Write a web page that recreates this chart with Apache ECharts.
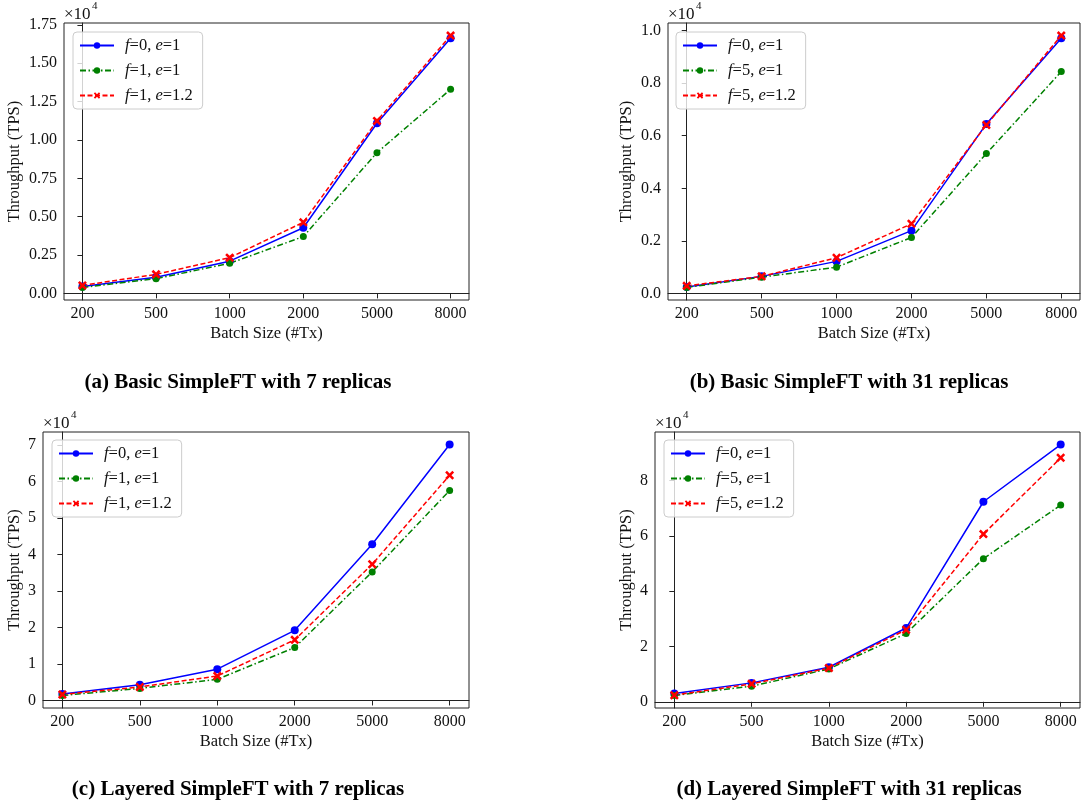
<!DOCTYPE html>
<html>
<head>
<meta charset="utf-8">
<title>SimpleFT throughput vs batch size</title>
<script src="https://cdn.jsdelivr.net/npm/echarts@6/dist/echarts.min.js"></script>
<style>
  html, body { margin: 0; padding: 0; background: #fff; }
  #chart { width: 1082px; height: 807px; }
</style>
</head>
<body>
<div id="chart"></div>
<script>
// Batch sizes on the x axis (shared by all four panels)
const batchSizes = ['200', '500', '1000', '2000', '5000', '8000'];

// Throughput (TPS) per batch size
// (a) Basic SimpleFT, 7 replicas
const basic7_f0e1   = [450, 1050, 2100, 4280, 11090, 16630];
const basic7_f1e1   = [390, 960, 1960, 3700, 9170, 13300];
const basic7_f1e12  = [520, 1240, 2330, 4630, 11240, 16800];
// (b) Basic SimpleFT, 31 replicas
const basic31_f0e1  = [250, 650, 1220, 2390, 6450, 9710];
const basic31_f5e1  = [230, 620, 1000, 2130, 5320, 8440];
const basic31_f5e12 = [290, 650, 1360, 2650, 6410, 9810];
// (c) Layered SimpleFT, 7 replicas
const layered7_f0e1  = [1800, 4300, 8570, 19200, 42800, 70100];
const layered7_f1e1  = [1370, 3300, 5800, 14500, 35200, 57500];
const layered7_f1e12 = [1640, 3700, 6700, 16600, 37300, 61700];
// (d) Layered SimpleFT, 31 replicas
const layered31_f0e1  = [3000, 6850, 12500, 26700, 72400, 93100];
const layered31_f5e1  = [2300, 5650, 11900, 24700, 51800, 71200];
const layered31_f5e12 = [2400, 6500, 12200, 26100, 60700, 88300];

// Series labels
const namesF1 = ['f=0, e=1', 'f=1, e=1', 'f=1, e=1.2'];
const namesF5 = ['f=0, e=1', 'f=5, e=1', 'f=5, e=1.2'];

// Y tick values (in TPS); labels are shown scaled by 10^4
const ticksA = [0, 2500, 5000, 7500, 10000, 12500, 15000, 17500];
const ticksB = [0, 2000, 4000, 6000, 8000, 10000];
const ticksC = [0, 10000, 20000, 30000, 40000, 50000, 60000, 70000];
const ticksD = [0, 20000, 40000, 60000, 80000];

// Panel captions
const captions = [
  '(a) Basic SimpleFT with 7 replicas',
  '(b) Basic SimpleFT with 31 replicas',
  '(c) Layered SimpleFT with 7 replicas',
  '(d) Layered SimpleFT with 31 replicas'
];

const FONT = "'Liberation Serif', 'DejaVu Serif', 'Times New Roman', serif";
const INK = '#111';
const SPINE = '#222';

const panels = [
  { grid: { left: 64, top: 23, width: 405, height: 277 }, series: [basic7_f0e1, basic7_f1e1, basic7_f1e12], names: namesF1, ticks: ticksA, dec: 2, nameGap: 41, legend: { left: 73, top: 32 } },
  { grid: { left: 668, top: 23, width: 412, height: 277 }, series: [basic31_f0e1, basic31_f5e1, basic31_f5e12], names: namesF5, ticks: ticksB, dec: 1, nameGap: 33, legend: { left: 676, top: 32 } },
  { grid: { left: 43, top: 432, width: 426, height: 276 }, series: [layered7_f0e1, layered7_f1e1, layered7_f1e12], names: namesF1, ticks: ticksC, dec: 0, nameGap: 20, legend: { left: 52, top: 440 } },
  { grid: { left: 655, top: 432, width: 425, height: 276 }, series: [layered31_f0e1, layered31_f5e1, layered31_f5e12], names: namesF5, ticks: ticksD, dec: 0, nameGap: 20, legend: { left: 664, top: 440 } }
];

// Filled "X" marker
const xMarker = 'path://M2,0 L5,3 L8,0 L10,2 L7,5 L10,8 L8,10 L5,7 L2,10 L0,8 L3,5 L0,2 Z';

const styles = [
  { color: '#0000ff', type: 'solid', symbol: 'circle', size: 8 },
  { color: '#008000', type: [6, 2.5, 1.5, 2.5], symbol: 'circle', size: 7 },
  { color: '#ff0000', type: [5, 2.5], symbol: xMarker, size: 9 }
];

const grids = [], xAxes = [], yAxes = [], series = [], legends = [], graphics = [];

panels.forEach((p, k) => {
  grids.push(Object.assign({ show: true, borderColor: SPINE, borderWidth: 1, backgroundColor: 'transparent' }, p.grid));

  xAxes.push({
    type: 'value', gridIndex: k, min: -0.25, max: batchSizes.length - 0.75,
    splitLine: { show: false },
    axisLine: { show: true, lineStyle: { color: SPINE, width: 1 } },
    axisTick: { show: true, inside: false, length: 5, lineStyle: { color: SPINE }, customValues: batchSizes.map((_, i) => i) },
    axisLabel: { color: INK, fontFamily: FONT, fontSize: 16, margin: 6,
      customValues: batchSizes.map((_, i) => i), formatter: v => batchSizes[Math.round(v)] },
    name: 'Batch Size (#Tx)', nameLocation: 'middle', nameGap: 25,
    nameTextStyle: { color: INK, fontFamily: FONT, fontSize: 16.5 }
  });

  // 5% padding around the data range, as in the usual autoscaled plot
  const all = [].concat(...p.series);
  const lo = Math.min(...all), hi = Math.max(...all), pad = (hi - lo) * 0.05;
  yAxes.push({
    type: 'value', gridIndex: k, min: lo - pad, max: hi + pad,
    splitLine: { show: false },
    axisLine: { show: true, lineStyle: { color: SPINE, width: 1 } },
    axisTick: { show: true, inside: false, length: 5, lineStyle: { color: SPINE }, customValues: p.ticks },
    axisLabel: { color: INK, fontFamily: FONT, fontSize: 16, margin: 7,
      customValues: p.ticks, formatter: v => (v / 10000).toFixed(p.dec) },
    name: 'Throughput (TPS)', nameLocation: 'middle', nameGap: p.nameGap,
    nameTextStyle: { color: INK, fontFamily: FONT, fontSize: 16.5 }
  });

  p.series.forEach((vals, j) => {
    const s = styles[j];
    series.push({
      type: 'line', name: p.names[j], xAxisIndex: k, yAxisIndex: k,
      data: vals.map((v, i) => [i, v]),
      symbol: s.symbol, symbolSize: s.size, showSymbol: true,
      itemStyle: { color: s.color },
      lineStyle: { color: s.color, width: 1.5, type: s.type },
      animation: false, silent: true
    });
  });

  legends.push({
    orient: 'vertical', left: p.legend.left, top: p.legend.top,
    data: p.names,
    itemWidth: 34, itemHeight: 8, itemGap: 8,
    padding: [5, 10, 5, 6],
    backgroundColor: 'rgba(255,255,255,0.8)', borderColor: '#cccccc', borderWidth: 1, borderRadius: 4,
    selectedMode: false,
    formatter: n => n.replace(/([fe])=/g, '{i|$1}='),
    textStyle: {
      color: INK, fontFamily: FONT, fontSize: 16.5, lineHeight: 16, padding: [0, 0, 0, 6],
      rich: { i: { fontStyle: 'italic', fontFamily: FONT, fontSize: 16.5, color: INK } }
    }
  });

  // x10^4 multiplier above the y axis
  const gx = p.grid.left, gy = p.grid.top;
  graphics.push({ type: 'text', x: gx, y: gy - 8, silent: true,
    style: { text: '\u00d710', font: `17px ${FONT}`, fill: INK, verticalAlign: 'middle', align: 'left' } });
  graphics.push({ type: 'text', x: gx + 28, y: gy - 17, silent: true,
    style: { text: '4', font: `11px ${FONT}`, fill: INK, verticalAlign: 'middle', align: 'left' } });
});

// Captions under each panel
const capPos = [[238, 383], [849, 383], [238, 790], [849, 790]];
captions.forEach((c, k) => {
  graphics.push({ type: 'text', x: capPos[k][0], y: capPos[k][1], silent: true,
    style: { text: c, font: `bold 21px ${FONT}`, fill: '#000', align: 'center', verticalAlign: 'middle' } });
});

const chart = echarts.init(document.getElementById('chart'), null, { renderer: 'canvas' });
chart.setOption({
  backgroundColor: '#ffffff',
  animation: false,
  grid: grids, xAxis: xAxes, yAxis: yAxes,
  legend: legends, series: series,
  graphic: { elements: graphics }
});
</script>
</body>
</html>
